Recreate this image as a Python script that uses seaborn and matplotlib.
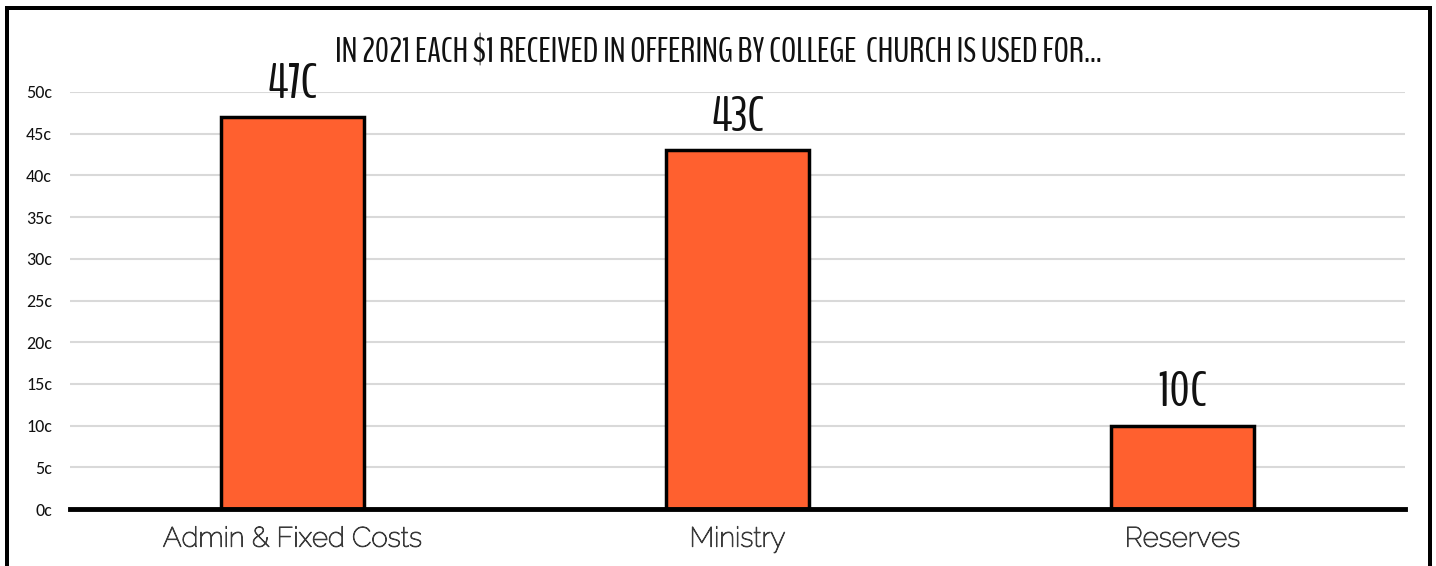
import matplotlib
matplotlib.use("Agg")
import matplotlib.pyplot as plt
import matplotlib.patheffects as pe
import seaborn as sns
import pandas as pd
from matplotlib.lines import Line2D

categories = ["Admin & Fixed Costs", "Ministry", "Reserves"]
values = [47, 43, 10]
value_labels = ["47C", "43C", "10C"]
ytick_values = [0, 5, 10, 15, 20, 25, 30, 35, 40, 45, 50]
ytick_labels = ["0c", "5c", "10c", "15c", "20c", "25c", "30c", "35c", "40c", "45c", "50c"]
title = "IN 2021 EACH $1 RECEIVED IN OFFERING BY COLLEGE  CHURCH IS USED FOR…"

sns.set_theme(style="white")
plt.rcParams["font.family"] = ["BenchNine", "DejaVu Sans"]

CONDENSED = ["BenchNine", "Bebas Neue", "DejaVu Sans"]
RALEWAY = ["Raleway", "Lato", "DejaVu Sans"]
CALIBRI = ["Carlito", "Lato", "DejaVu Sans"]

W, H = 1436, 566
fig = plt.figure(figsize=(W / 100, H / 100), dpi=100)
ax = fig.add_axes([70 / W, (H - 509) / H, (1405 - 70) / W, (509 - 92) / H])

df = pd.DataFrame({"cat": categories, "val": values})
sns.barplot(data=df, x="cat", y="val", ax=ax, color="#FF602F", saturation=1,
            width=0.32, edgecolor="black", linewidth=2.5, zorder=3)

ax.set_ylim(0, 50)
ax.set_xlim(-0.5, 2.5)
ax.set_yticks(ytick_values)
ax.set_yticklabels(ytick_labels, fontsize=13, color="#111111", family=CALIBRI)
ax.yaxis.grid(True, color="#d9d9d9", linewidth=1.5, zorder=0)
ax.xaxis.grid(False)
ax.tick_params(axis="y", length=0, pad=13)
ax.tick_params(axis="x", length=0, pad=12)
ax.set_xticks(range(len(categories)))
ax.set_xticklabels(categories, fontsize=20, color="#3a3a3a", family=RALEWAY)
for t in ax.get_xticklabels():
    t.set_path_effects([pe.withStroke(linewidth=0.7, foreground="#3a3a3a")])
ax.set_xlabel("")
ax.set_ylabel("")
for s in ["top", "right", "left"]:
    ax.spines[s].set_visible(False)
ax.spines["bottom"].set_color("black")
ax.spines["bottom"].set_linewidth(3.5)
ax.spines["bottom"].set_zorder(5)

for i, (v, lab) in enumerate(zip(values, value_labels)):
    ax.annotate(lab, (i, v), xytext=(0, 14), textcoords="offset points",
                ha="center", va="baseline", fontsize=36, color="#111111",
                family=CONDENSED, clip_on=False)

fig.text(0.5, (H - 62) / H, title, ha="center", va="baseline", fontsize=25,
         color="#111111", family=CONDENSED)

# frame border (bottom cut off)
lw = 4 * 0.72
for xs, ys in [([7 / W, 7 / W], [0, (H - 8) / H]),
               ([1430 / W, 1430 / W], [0, (H - 8) / H]),
               ([7 / W, 1430 / W], [(H - 8) / H, (H - 8) / H])]:
    fig.add_artist(Line2D(xs, ys, color="black", lw=lw,
                          transform=fig.transFigure, solid_capstyle="projecting"))

fig.savefig("out.png", dpi=100)
